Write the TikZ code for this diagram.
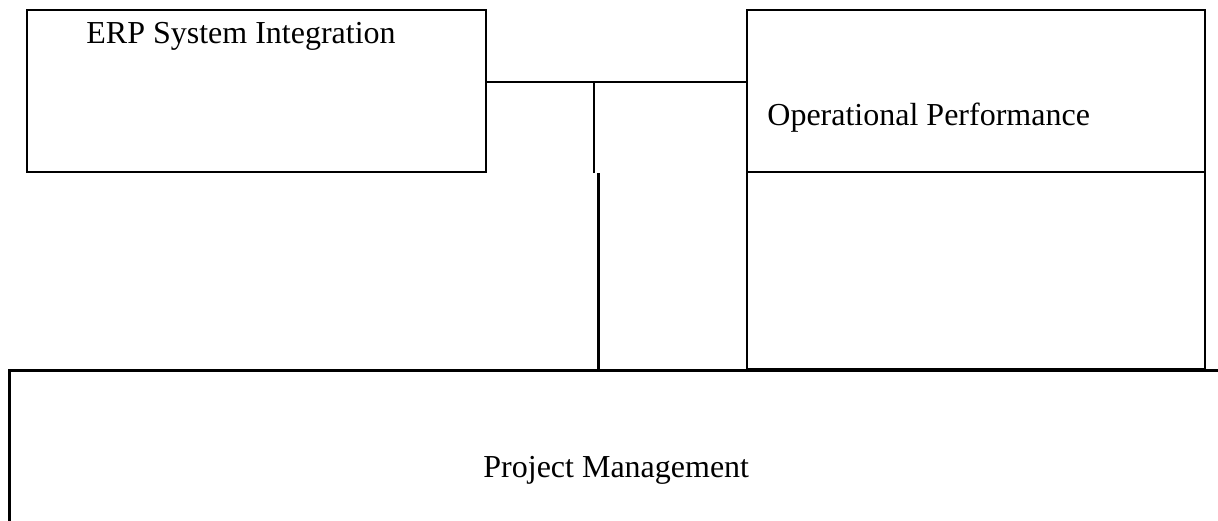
\documentclass[tikz,border=0pt]{standalone}
\usepackage{fontspec}
\setmainfont{Liberation Serif}
\usetikzlibrary{positioning,calc}
\tikzset{box/.style={draw,line width=1pt,inner sep=0pt},
  lbl/.style={anchor=base west,inner sep=0pt,font=\fontsize{16}{19}\selectfont}}

\begin{document}
\begin{tikzpicture}[x=0.5pt,y=-0.5pt]
	\useasboundingbox (0,0) rectangle (1218,520);
	\clip (0,0) rectangle (1218,520);
	
	\node[box,minimum width=229.5pt,minimum height=81pt] (erp) at (256.5,91) {};
	\node[box,minimum width=229pt,minimum height=81pt] (op) at (976,91) {};
	\node[box,minimum width=229pt,minimum height=98.5pt] (opl) at (976,270.5) {};
	\node[box,line width=1.5pt,minimum width=615.5pt,minimum height=95pt] (pm) at (624.5,465) {};
	
	\node[lbl] (erptext) at (86,43) {ERP System Integration};
	\node[lbl] (optext) at (767,125) {Operational Performance};
	\node[lbl] (pmtext) at (483,477) {Project Management};
	
	\draw[line width=1pt] ([yshift=4.5pt]erp.east) -- ([yshift=4.5pt]op.west);
	\coordinate (tee) at (594,82);
	\draw[line width=1pt] (tee) -- (tee |- erp.south);
	\draw[line width=1.5pt] ([xshift=2pt]tee |- erp.south) -- ([xshift=2pt]tee |- pm.north);
\end{tikzpicture}
\end{document}
